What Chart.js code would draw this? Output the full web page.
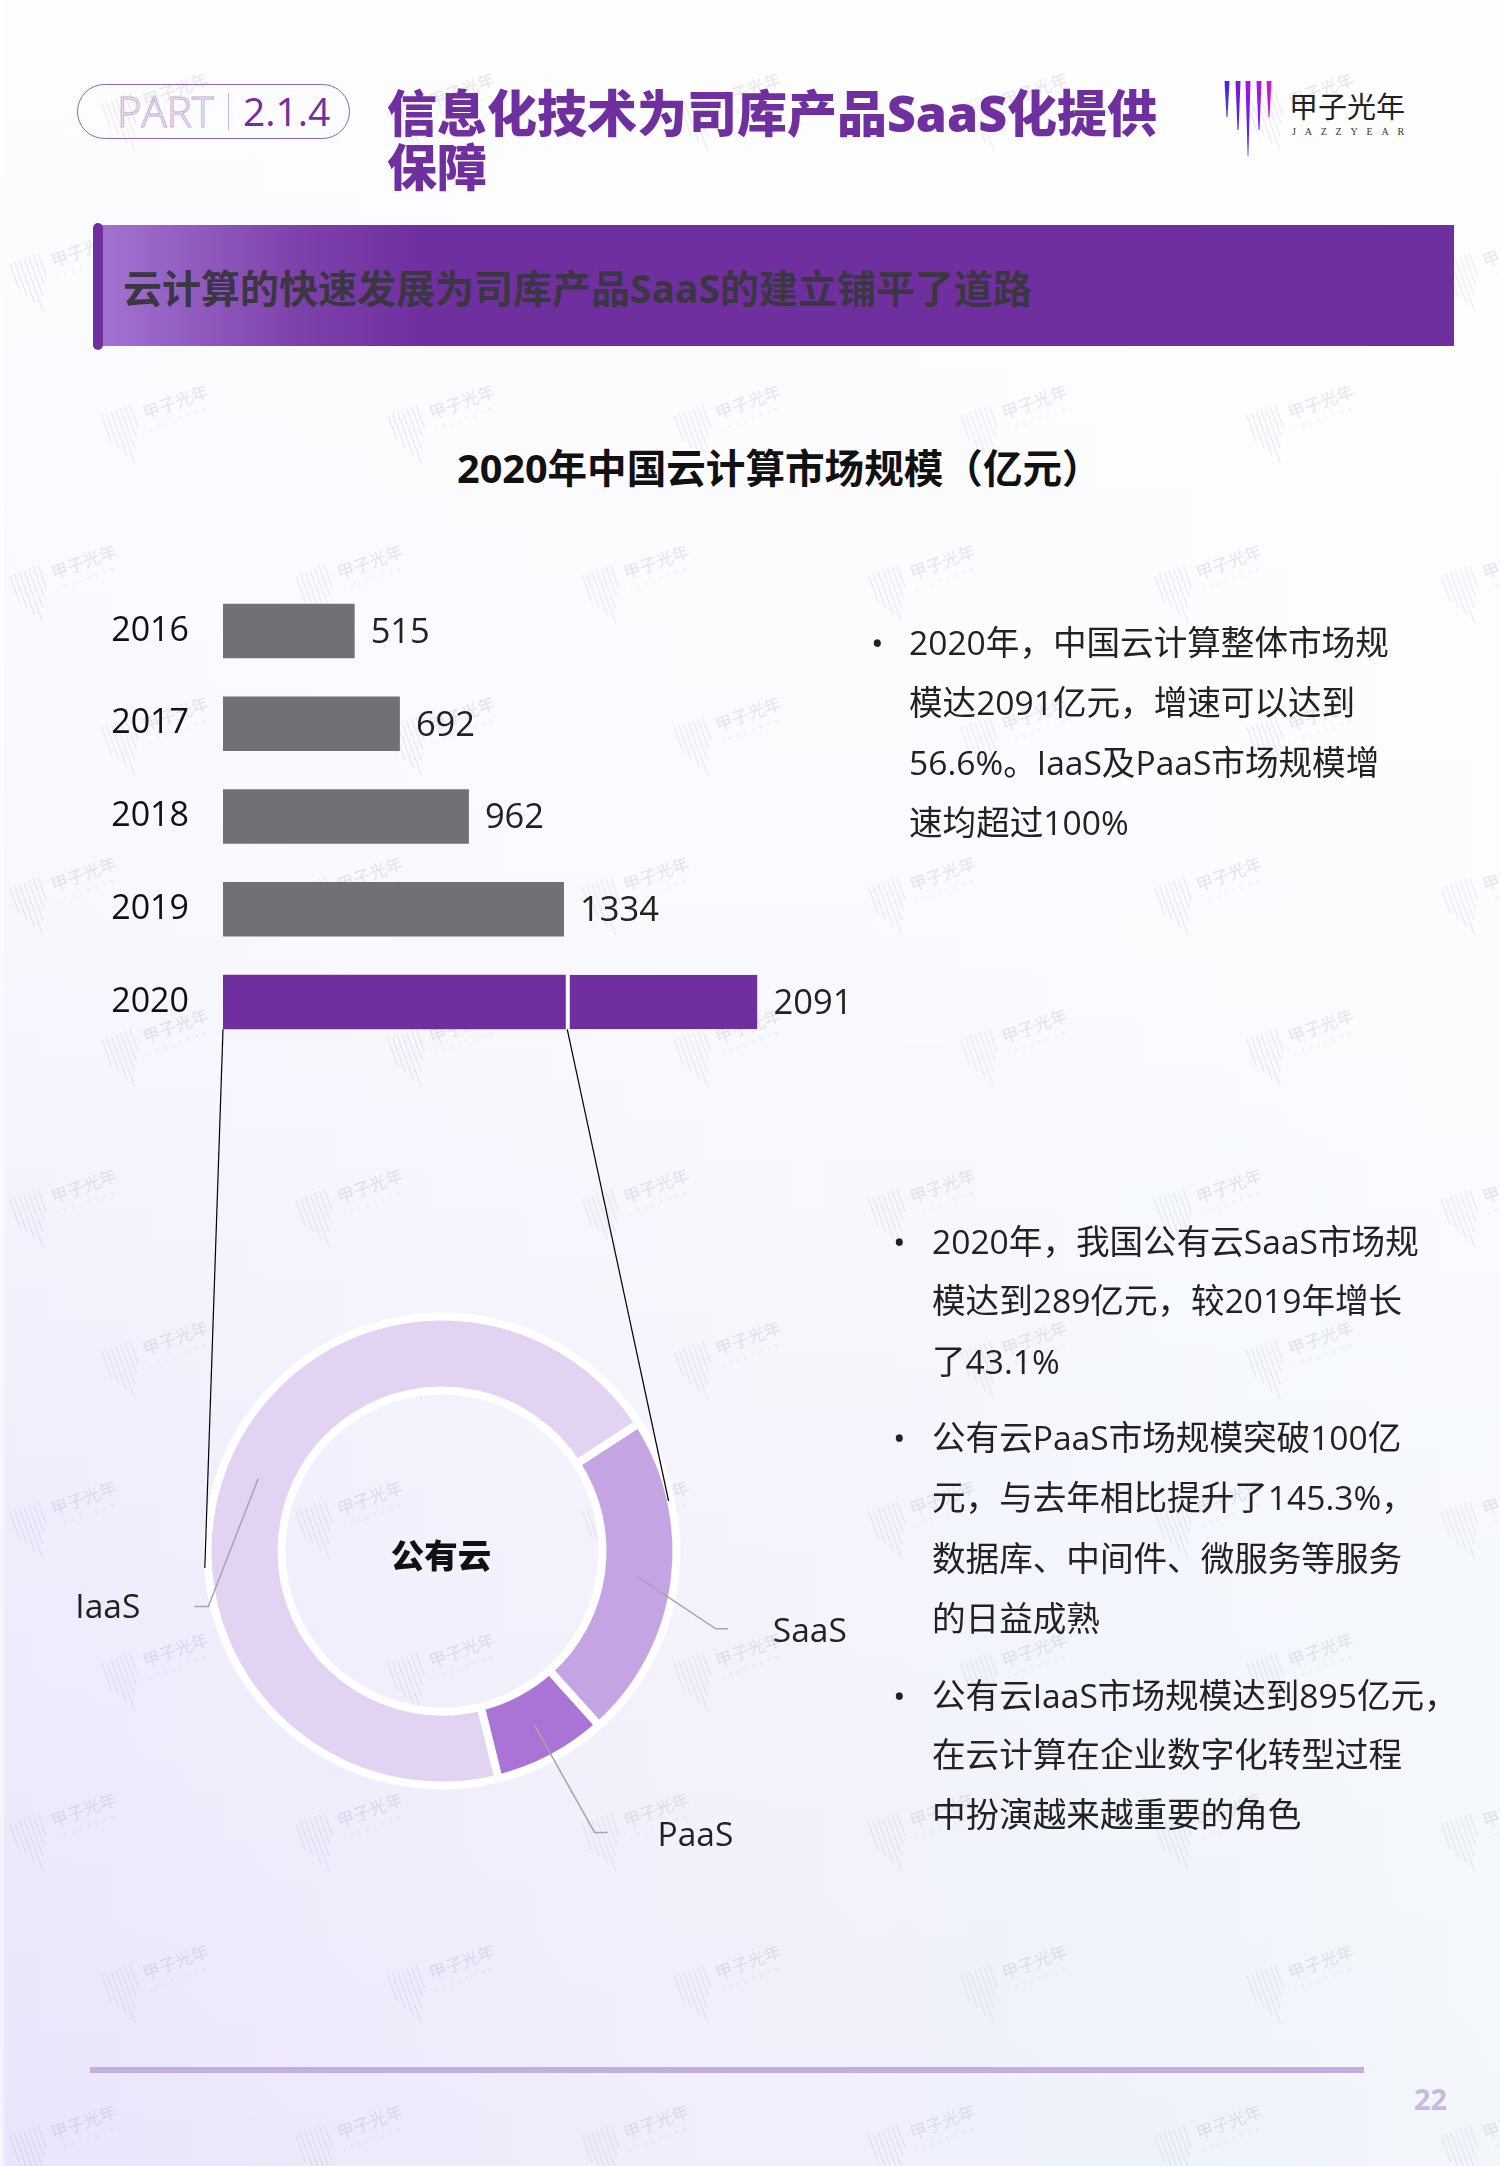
<!DOCTYPE html>
<html lang="zh-CN">
<head>
<meta charset="utf-8">
<title>信息化技术为司库产品SaaS化提供保障</title>
<script src="https://cdn.jsdelivr.net/npm/chart.js@4"></script>
<style>
html,body{margin:0;padding:0;width:1500px;height:2166px;overflow:hidden;}
body{position:relative;font-family:"Open Sans","Noto Sans CJK SC",sans-serif;color:#222;
 background:
  linear-gradient(90deg,rgba(255,255,255,.5) 0,rgba(255,255,255,.5) 3px,rgba(255,255,255,0) 5px),
  linear-gradient(180deg,rgba(255,255,255,.92) 0%,rgba(255,255,255,.72) 40%,rgba(255,255,255,.3) 70%,rgba(255,255,255,0) 100%),
  linear-gradient(90deg,#e9e5fb 0%,#f0eefb 45%,#eef3fb 75%,#f3f7fb 100%);}
.abs{position:absolute;white-space:nowrap;}
.mid{transform:translateY(-50%);line-height:1;}
canvas{position:absolute;display:block;}
svg.layer{position:absolute;left:0;top:0;pointer-events:none;}
#pill{left:76.5px;top:84px;width:271px;height:53px;border:1.5px solid #8c66c2;border-radius:28px;}
#part{left:117px;top:111px;font-size:42px;font-weight:300;color:transparent;-webkit-text-stroke:1px #bfaadb;}
#divider{left:228px;top:93px;width:1px;height:37px;background:#c4b3dd;}
#num{left:243px;top:110px;font-size:39px;font-weight:400;color:#6f2f9f;}
.h1{left:387px;font-size:50px;font-weight:900;color:#6f2f9f;}
#rod{left:93px;top:223px;width:10px;height:127px;background:#6f2f9f;border-radius:5px;}
#band{left:100px;top:225px;width:1354px;height:121px;background:linear-gradient(90deg,#a273d2 0%,#7d40aa 15%,#6f2f9f 24%,#6f2f9f 100%);}
#sub{left:123px;top:287px;font-size:39px;font-weight:700;color:#3b3742;}
#chartTitle{left:457px;top:469px;font-size:39.6px;font-weight:700;color:#111;}
.body{font-size:33.6px;color:#222;}
#footline{left:90px;top:2067px;width:1274px;height:6px;background:#c3aee0;}
#pageno{left:1414px;top:2098px;font-size:29px;font-weight:700;color:#c6b9e2;}
#logoCn{left:1289px;top:106px;font-size:29px;font-weight:400;color:#222;}
#logoEn{left:1292px;top:132px;font-size:10px;font-family:"Liberation Serif",serif;color:#333;letter-spacing:8.8px;}
</style>
</head>
<body>
<svg class="layer" width="1500" height="2166" aria-hidden="true">
  <defs>
    <g id="wm" stroke="rgba(110,110,135,.16)" stroke-width="1" fill="none">
      <line x1="-53" y1="-22" x2="-53" y2="6"/><line x1="-48" y1="-22" x2="-48" y2="14"/>
      <line x1="-43" y1="-22" x2="-43" y2="24"/><line x1="-38" y1="-22" x2="-38" y2="34"/>
      <line x1="-33" y1="-22" x2="-33" y2="20"/><line x1="-28" y1="-22" x2="-28" y2="10"/>
      <line x1="-23" y1="-22" x2="-23" y2="2"/>
      <text x="-13" y="-3" font-size="17" fill="rgba(110,110,135,.18)" stroke="none" font-family="Noto Sans CJK SC">甲子光年</text>
      <text x="-13" y="9" font-size="5" letter-spacing="5" fill="rgba(110,110,135,.15)" stroke="none" font-family="Liberation Serif">JAZZYEAR</text>
    </g>
    <pattern id="wmPat" width="286.3" height="312" patternUnits="userSpaceOnUse">
      <use href="#wm" transform="translate(159,106) rotate(-20)"/>
      <use href="#wm" transform="translate(67,266) rotate(-20)"/>
    </pattern>
    <linearGradient id="sp1" x1="0" y1="0" x2="0" y2="1"><stop offset="0" stop-color="#4a1fe6"/><stop offset="1" stop-color="#5a38d8"/></linearGradient>
    <linearGradient id="sp2" x1="0" y1="0" x2="0" y2="1"><stop offset="0" stop-color="#7a18e0"/><stop offset="1" stop-color="#3a2ae8"/></linearGradient>
    <linearGradient id="sp3" x1="0" y1="0" x2="0" y2="1"><stop offset="0" stop-color="#a412ee"/><stop offset="1" stop-color="#3a22ee"/></linearGradient>
    <linearGradient id="sp4" x1="0" y1="0" x2="0" y2="1"><stop offset="0" stop-color="#b612e6"/><stop offset="1" stop-color="#6a22e4"/></linearGradient>
    <linearGradient id="sp5" x1="0" y1="0" x2="0" y2="1"><stop offset="0" stop-color="#d812cc"/><stop offset="1" stop-color="#b018e0"/></linearGradient>
  </defs>
  <rect width="1500" height="2166" fill="url(#wmPat)"/>
  <polygon points="1224.5,81 1229.5,81 1227.5,117 1226.5,117" fill="url(#sp1)"/>
  <polygon points="1235.5,81 1240.5,81 1238.5,130 1237.5,130" fill="url(#sp2)"/>
  <polygon points="1245.5,81 1250.5,81 1248.3,156 1247.7,156" fill="url(#sp3)"/>
  <polygon points="1256.5,81 1261.5,81 1259.5,130 1258.5,130" fill="url(#sp4)"/>
  <polygon points="1266.5,81 1271.5,81 1269.5,117 1268.5,117" fill="url(#sp5)"/>
</svg>

<div class="abs" id="pill"></div>
<div class="abs mid" id="part">PART</div>
<div class="abs" id="divider"></div>
<div class="abs mid" id="num">2.1.4</div>
<div class="abs mid h1" style="top:113px">信息化技术为司库产品SaaS化提供</div>
<div class="abs mid h1" style="top:167px">保障</div>
<div class="abs mid" id="logoCn">甲子光年</div>
<div class="abs mid" id="logoEn">JAZZYEAR</div>
<div class="abs" id="band"></div>
<div class="abs" id="rod"></div>
<div class="abs mid" id="sub">云计算的快速发展为司库产品SaaS的建立铺平了道路</div>
<div class="abs mid" id="chartTitle">2020年中国云计算市场规模（亿元）</div>

<canvas id="barChart" width="802" height="510" style="left:60px;top:560px;width:802px;height:510px"></canvas>
<canvas id="donutChart" width="840" height="600" style="left:50px;top:1280px;width:840px;height:600px"></canvas>
<svg class="layer" id="connectors" width="1500" height="2166" aria-hidden="true"></svg>

<div id="notes"></div>
<div class="abs" id="footline"></div>
<div class="abs mid" id="pageno">22</div>

<script>
// ---- chart data ----
const categories = ['2016', '2017', '2018', '2019', '2020'];
const barFirstPart = [515, 692, 962, 1334, 1341];
const barSecondPart = [null, null, null, null, 750];
const barColors = ['#707075', '#707075', '#707075', '#707075', '#6f2f9f'];
const xAxisMax = 2500;

const cloudSegments = ['SaaS', 'PaaS', 'IaaS'];
const cloudValues = [289, 100, 895];
const cloudColors = ['#c5a4e3', '#a974d6', '#e1d3f1'];
const centerLabel = '公有云';

// ---- page copy ----
const noteLinesTop = ['2020年，中国云计算整体市场规', '模达2091亿元，增速可以达到', '56.6%。IaaS及PaaS市场规模增', '速均超过100%'];
const noteLinesA = ['2020年，我国公有云SaaS市场规', '模达到289亿元，较2019年增长', '了43.1%'];
const noteLinesB = ['公有云PaaS市场规模突破100亿', '元，与去年相比提升了145.3%，', '数据库、中间件、微服务等服务', '的日益成熟'];
const noteLinesC = ['公有云IaaS市场规模达到895亿元，', '在云计算在企业数字化转型过程', '中扮演越来越重要的角色'];

const notesEl = document.getElementById('notes');
function addNote(lines, bulletX, textX, ys) {
  lines.forEach((t, i) => {
    if (i === 0) {
      const b = document.createElement('div');
      b.className = 'abs mid body'; b.textContent = '•';
      b.style.left = bulletX + 'px'; b.style.top = ys[0] + 'px';
      notesEl.appendChild(b);
    }
    const d = document.createElement('div');
    d.className = 'abs mid body'; d.textContent = t;
    d.style.left = textX + 'px'; d.style.top = ys[i] + 'px';
    notesEl.appendChild(d);
  });
}
addNote(noteLinesTop, 871, 909, [643, 703, 763, 823]);
addNote(noteLinesA, 893, 932, [1242, 1301, 1362]);
addNote(noteLinesB, 893, 932, [1438, 1498, 1559, 1619]);
addNote(noteLinesC, 893, 932, [1696, 1755, 1815]);

Chart.defaults.font.family = '"Open Sans","Noto Sans CJK SC",sans-serif';
Chart.defaults.animation = false;

// value labels after each bar
const totalLabels = {
  id: 'totalLabels',
  afterDatasetsDraw(chart) {
    const { ctx, scales: { x, y } } = chart;
    ctx.save();
    ctx.font = '34.5px "Open Sans","Noto Sans CJK SC",sans-serif';
    ctx.fillStyle = '#222';
    ctx.textAlign = 'left';
    ctx.textBaseline = 'middle';
    categories.forEach((c, i) => {
      const total = (barFirstPart[i] || 0) + (barSecondPart[i] || 0);
      ctx.fillText(String(total), x.getPixelForValue(total) + 16, y.getPixelForValue(i) + 2);
    });
    ctx.restore();
  }
};

const barChart = new Chart(document.getElementById('barChart'), {
  type: 'bar',
  data: {
    labels: categories,
    datasets: [
      { data: barFirstPart, backgroundColor: barColors, borderWidth: 0 },
      { data: barSecondPart, backgroundColor: '#6f2f9f', borderColor: '#ffffff', borderWidth: { left: 4, right: 0, top: 0, bottom: 0 }, borderSkipped: false }
    ]
  },
  options: {
    indexAxis: 'y',
    responsive: false,
    maintainAspectRatio: false,
    barPercentage: 0.5876,
    categoryPercentage: 1,
    layout: { autoPadding: false, padding: { top: 24.6, bottom: 21.6, left: 0, right: 0 } },
    plugins: { legend: { display: false }, tooltip: { enabled: false } },
    scales: {
      x: { stacked: true, display: false, min: 0, max: xAxisMax },
      y: {
        stacked: true,
        border: { display: false },
        grid: { display: false, drawTicks: false },
        ticks: { color: '#111', padding: 34, font: { size: 34 } },
        afterFit(axis) { axis.width = 163; axis.paddingTop = 0; axis.paddingBottom = 0; }
      }
    }
  },
  plugins: [totalLabels]
});

// label call-outs that start at the middle of each ring segment
const calloutOffsets = {
  IaaS: { elbowDx: -50, elbowDy: 128, endDx: -14, textDx: -68, side: 'right', textDy: 2 },
  SaaS: { elbowDx: 78, elbowDy: 52, endDx: 12, textDx: 57, side: 'left', textDy: 4 },
  PaaS: { elbowDx: 60, elbowDy: 107, endDx: 13, textDx: 63, side: 'left', textDy: 4 }
};
const donutDecor = {
  id: 'donutDecor',
  afterDatasetsDraw(chart) {
    const { ctx } = chart;
    const arcs = chart.getDatasetMeta(0).data;
    ctx.save();
    arcs.forEach((arc, i) => {
      const name = cloudSegments[i], o = calloutOffsets[name];
      const p = arc.getCenterPoint();
      const ex = p.x + o.elbowDx, ey = p.y + o.elbowDy;
      ctx.beginPath();
      ctx.moveTo(p.x, p.y); ctx.lineTo(ex, ey); ctx.lineTo(ex + o.endDx, ey);
      ctx.strokeStyle = '#a6a6a6'; ctx.lineWidth = 1.5; ctx.stroke();
      ctx.font = '33.5px "Open Sans","Noto Sans CJK SC",sans-serif';
      ctx.fillStyle = '#222'; ctx.textBaseline = 'middle'; ctx.textAlign = o.side;
      ctx.fillText(name, ex + o.textDx, ey + o.textDy);
    });
    const c = arcs[0];
    ctx.font = '900 33.5px "Noto Sans CJK SC",sans-serif';
    ctx.fillStyle = '#111'; ctx.textAlign = 'center'; ctx.textBaseline = 'middle';
    ctx.fillText(centerLabel, c.x - 1, c.y + 4);
    ctx.restore();
  }
};

const donutChart = new Chart(document.getElementById('donutChart'), {
  type: 'doughnut',
  data: {
    labels: cloudSegments,
    datasets: [{ data: cloudValues, backgroundColor: cloudColors, borderColor: '#ffffff', borderWidth: 8 }]
  },
  options: {
    responsive: false,
    maintainAspectRatio: false,
    rotation: 57,
    cutout: 160.5,
    layout: { padding: { left: 153.5, right: 209.5, top: 32.5, bottom: 90.5 } },
    plugins: { legend: { display: false }, tooltip: { enabled: false } }
  },
  plugins: [donutDecor]
});

// thin connectors from the 2020 bar down to the ring
(function () {
  const svg = document.getElementById('connectors');
  const barBox = document.getElementById('barChart').getBoundingClientRect();
  const donutBox = document.getElementById('donutChart').getBoundingClientRect();
  const bar = barChart.getDatasetMeta(0).data[4];
  const arc0 = donutChart.getDatasetMeta(0).data[0];
  const cx = donutBox.left + arc0.x, cy = donutBox.top + arc0.y;
  const yBottom = barBox.top + bar.y + bar.height / 2;
  const x0 = barBox.left + barChart.scales.x.getPixelForValue(0);
  const x1 = barBox.left + barChart.scales.x.getPixelForValue(barFirstPart[4]) + 1.5;
  const segs = [[x0, yBottom, cx - 237.2, cy + 17], [x1, yBottom, cx + 226.6, cy - 50]];
  segs.forEach(s => {
    const l = document.createElementNS('http://www.w3.org/2000/svg', 'line');
    l.setAttribute('x1', s[0]); l.setAttribute('y1', s[1]);
    l.setAttribute('x2', s[2]); l.setAttribute('y2', s[3]);
    l.setAttribute('stroke', '#000'); l.setAttribute('stroke-width', '1.2');
    svg.appendChild(l);
  });
})();
</script>
</body>
</html>
